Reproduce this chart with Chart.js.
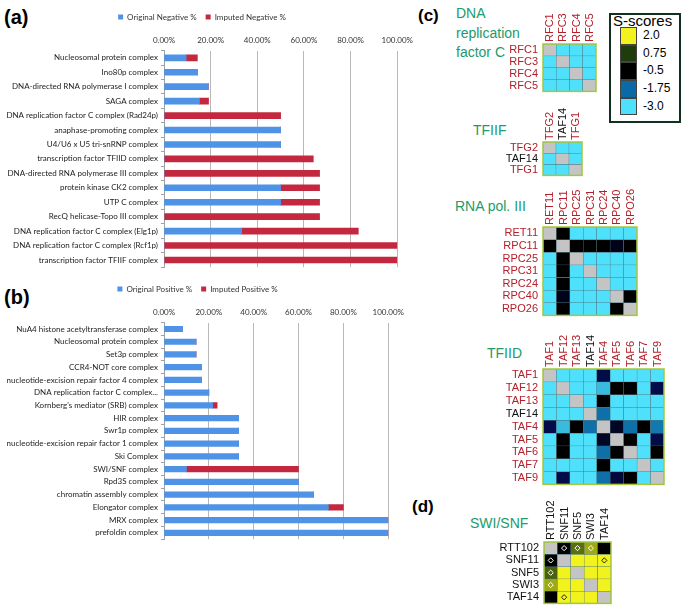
<!DOCTYPE html>
<html>
<head>
<meta charset="utf-8">
<script src="https://cdn.jsdelivr.net/npm/chart.js@4.4.0/dist/chart.umd.min.js"></script>
<style>
body{margin:0;background:#fff;width:685px;height:614px;position:relative;overflow:hidden;font-family:"Liberation Sans",Arial,sans-serif}
canvas{position:absolute}
.tag{position:absolute;font-weight:bold;font-size:20px;color:#000;line-height:22px}
.ttl{position:absolute;color:#229a6a;font-size:14px;line-height:19.5px}
#leg{position:absolute;left:609px;top:13px;width:68px;height:106px;border:2px solid #12301f}
#leg .h{position:absolute;left:2px;top:-2px;font-size:15px;line-height:15px}
#leg .sw{position:absolute;left:9px;width:17px;height:17.7px;border:0.5px solid #444;box-sizing:border-box}
#leg .lb{position:absolute;left:32px;font-size:12px;line-height:17.7px}
</style>
</head>
<body>
<div class="tag" style="left:4px;top:6px">(a)</div>
<div class="tag" style="left:4px;top:286px">(b)</div>
<div class="tag" style="left:418px;top:5px;font-size:17px">(c)</div>
<div class="tag" style="left:412px;top:496px;font-size:17px">(d)</div>

<div class="ttl" style="left:456px;top:4px">DNA<br>replication<br>factor C</div>
<div class="ttl" style="left:473px;top:121px">TFIIF</div>
<div class="ttl" style="left:455px;top:197px">RNA pol. III</div>
<div class="ttl" style="left:487px;top:344px">TFIID</div>
<div class="ttl" style="left:470px;top:514px">SWI/SNF</div>

<div id="leg"><div class="h">S-scores</div></div>

<canvas id="negChart" width="418" height="275" style="left:0;top:0"></canvas>
<canvas id="posChart" width="409" height="275" style="left:0;top:272px"></canvas>
<canvas id="rfc"></canvas>
<canvas id="tfiif"></canvas>
<canvas id="pol3"></canvas>
<canvas id="tfiid"></canvas>
<canvas id="swi"></canvas>

<script>
// (a) negatives
const negCategories = [
  'Nucleosomal protein complex',
  'Ino80p complex',
  'DNA-directed RNA polymerase I complex',
  'SAGA complex',
  'DNA replication factor C complex (Rad24p)',
  'anaphase-promoting complex',
  'U4/U6 x U5 tri-snRNP complex',
  'transcription factor TFIID complex',
  'DNA-directed RNA polymerase III complex',
  'protein kinase CK2 complex',
  'UTP C complex',
  'RecQ helicase-Topo III complex',
  'DNA replication factor C complex (Elg1p)',
  'DNA replication factor C complex (Rcf1p)',
  'transcription factor TFIIF complex'
];
const negOriginal = [9.5, 14.3, 19, 15.2, 0, 50, 50, 0, 0, 50, 50, 0, 33.3, 0, 0];
const negImputed  = [4.8, 0, 0, 3.9, 50, 0, 0, 64, 66.7, 16.7, 16.7, 66.7, 50, 100, 100];

// (b) positives
const posCategories = [
  'NuA4 histone acetyltransferase complex',
  'Nucleosomal protein complex',
  'Set3p complex',
  'CCR4-NOT core complex',
  'nucleotide-excision repair factor 4 complex',
  'DNA replication factor C complex...',
  "Kornberg's mediator (SRB) complex",
  'HIR complex',
  'Swr1p complex',
  'nucleotide-excision repair factor 1 complex',
  'Ski Complex',
  'SWI/SNF complex',
  'Rpd3S complex',
  'chromatin assembly complex',
  'Elongator complex',
  'MRX complex',
  'prefoldin complex'
];
const posOriginal = [8.3, 14.3, 14.3, 16.7, 16.7, 20, 21.7, 33.3, 33.3, 33.3, 33.3, 10, 60, 66.7, 73.3, 100, 100];
const posImputed  = [0, 0, 0, 0, 0, 0, 2, 0, 0, 0, 0, 50, 0, 0, 6.7, 0, 0];

// (c)/(d) S-score matrices, null = diagonal
const rfcGenes = ['RFC1', 'RFC3', 'RFC4', 'RFC5'];
const rfcScores = [
  [null, -3, -3, -3],
  [-3, null, -3, -3],
  [-3, -3, null, -3],
  [-3, -3, -3, null]
];
const tfiifGenes = ['TFG2', 'TAF14', 'TFG1'];
const tfiifScores = [
  [null, -3, -3],
  [-3, null, -3],
  [-3, -3, null]
];
const pol3Genes = ['RET11', 'RPC11', 'RPC25', 'RPC31', 'RPC24', 'RPC40', 'RPO26'];
const pol3Scores = [
  [null, -0.5, -3, -3, -3, -3, -3],
  [-0.5, null, -0.5, -0.5, -0.5, -0.7, -0.5],
  [-3, -0.5, null, -3, -3, -3, -3],
  [-3, -0.5, -3, null, -3, -3, -3],
  [-3, -0.5, -3, -3, null, -3, -3],
  [-3, -0.7, -3, -3, -3, null, -0.5],
  [-3, -0.5, -3, -3, -3, -0.5, null]
];
const tfiidGenes = ['TAF1', 'TAF12', 'TAF13', 'TAF14', 'TAF4', 'TAF5', 'TAF6', 'TAF7', 'TAF9'];
const tfiidScores = [
  [null, -3, -3, -3, -1.1, -3, -3, -3, -3],
  [-3, null, -3, -3, -2.6, -0.5, -0.5, -3, -1.1],
  [-3, -3, null, -3, -0.5, -3, -3, -3, -3],
  [-3, -3, -3, null, -1.8, -3, -3, -3, -3],
  [-1.1, -2.6, -0.5, -1.8, null, -0.8, -1.8, -0.5, -1.9],
  [-3, -0.5, -3, -3, -0.8, null, -0.5, -3, -1.1],
  [-3, -0.5, -3, -3, -1.8, -0.5, null, -3, -0.5],
  [-3, -3, -3, -3, -0.5, -3, -3, null, -3],
  [-3, -1.1, -3, -3, -1.8, -1.0, -0.5, -3, null]
];
const swiGenes = ['RTT102', 'SNF11', 'SNF5', 'SWI3', 'TAF14'];
const swiScores = [
  [null, -0.5, 1.1, 1.5, -0.5],
  [-0.5, null, 2, 2, 2],
  [1.0, 2, null, 2, 2],
  [1.5, 2, 2, null, 2],
  [-0.5, 2, 2, 2, null]
];
const swiMarked = [[0, 1], [0, 2], [0, 3], [1, 0], [1, 4], [2, 0], [3, 0], [4, 1]];

const scoreStops = [-3, -1.75, -1.1, -0.5, 0.75, 2.0];
const scoreColors = ['#4fe1fb', '#0b6aa6', '#020c48', '#000000', '#1f3c0b', '#f2f21c'];
const legendLabels = ['2.0', '0.75', '-0.5', '-1.75', '-3.0'];
const legendColors = ['#f2f21c', '#1f3c0b', '#000000', '#0b6aa6', '#4fe1fb'];

function hex(c) { return [1, 3, 5].map(i => parseInt(c.substr(i, 2), 16)); }
function sColor(v) {
  if (v === null) return '#c4c4c4';
  if (v <= scoreStops[0]) return scoreColors[0];
  for (let i = 1; i < scoreStops.length; i++) {
    if (v <= scoreStops[i]) {
      const t = (v - scoreStops[i - 1]) / (scoreStops[i] - scoreStops[i - 1]);
      const a = hex(scoreColors[i - 1]), b = hex(scoreColors[i]);
      return 'rgb(' + a.map((x, k) => Math.round(x + (b[k] - x) * t)).join(',') + ')';
    }
  }
  return scoreColors[scoreColors.length - 1];
}

// legend box
const leg = document.getElementById('leg');
legendLabels.forEach((l, i) => {
  const top = 12 + i * 17.7;
  leg.insertAdjacentHTML('beforeend',
    `<div class="sw" style="top:${top}px;background:${legendColors[i]}"></div>` +
    `<div class="lb" style="top:${top}px">${l}</div>`);
});

const BLUE = '#4f93e6', RED = '#c4283e';
const barFont = { family: 'Lato', size: 8 };

function makeBars(id, cats, orig, imp, names, thick, legPad) {
  new Chart(document.getElementById(id), {
    type: 'bar',
    data: {
      labels: cats,
      datasets: [
        { label: names[0], data: orig, backgroundColor: BLUE, barThickness: thick },
        { label: names[1], data: imp, backgroundColor: RED, barThickness: thick }
      ]
    },
    options: {
      indexAxis: 'y',
      responsive: false,
      animation: false,
      layout: { padding: { left: 0, right: 14, top: 4, bottom: 3 } },
      plugins: {
        tooltip: { enabled: false },
        legend: {
          position: 'top',
          labels: { boxWidth: 5, boxHeight: 5, font: barFont, color: '#333', padding: legPad }
        }
      },
      scales: {
        x: {
          position: 'top', stacked: true, min: 0, max: 100,
          ticks: { stepSize: 20, callback: v => v.toFixed(2) + '%', font: barFont, color: '#333', padding: 5 },
          grid: { color: '#b8b8b8', drawTicks: false },
          border: { display: false }
        },
        y: {
          stacked: true,
          ticks: { font: barFont, color: '#222', autoSkip: false, padding: 3 },
          grid: { drawOnChartArea: false, offset: true, tickLength: 3, color: '#a0a0a0' },
          border: { color: '#a0a0a0' },
          afterFit: s => { s.width = 164; }
        }
      }
    }
  });
}

makeBars('negChart', negCategories, negOriginal, negImputed, ['Original Negative %', 'Imputed Negative %'], 6, 9);
makeBars('posChart', posCategories, posOriginal, posImputed, ['Original Positive %', 'Imputed Positive %'], 5.5, 9);

const frame = {
  id: 'frame',
  afterDatasetsDraw(chart) {
    const a = chart.chartArea, ctx = chart.ctx;
    ctx.save();
    ctx.strokeStyle = '#a4c83c';
    ctx.lineWidth = 1.5;
    ctx.strokeRect(a.left, a.top, a.right - a.left, a.bottom - a.top);
    ctx.restore();
  }
};

const RED_LBL = '#b3202b';
function geneColor(g, allBlack) { return allBlack || g === 'TAF14' ? '#111' : RED_LBL; }

function makeHeat(id, gridLeft, gridTop, cell, genes, scores, allBlack, marks) {
  const W = 60, H = 46, n = genes.length;
  const cv = document.getElementById(id);
  cv.width = W + n * cell + 10;
  cv.height = H + n * cell + 6;
  cv.style.left = (gridLeft - W) + 'px';
  cv.style.top = (gridTop - H) + 'px';
  const lblFont = { family: 'Liberation Sans', size: 11 };
  // column names, upright text reading bottom-to-top above each column
  const colLabels = {
    id: 'colLabels',
    afterDraw(chart) {
      const { ctx, chartArea, scales } = chart;
      ctx.save();
      ctx.font = '11px "Liberation Sans"';
      ctx.textAlign = 'left';
      ctx.textBaseline = 'middle';
      genes.forEach((g, i) => {
        ctx.save();
        ctx.translate(scales.x.getPixelForValue(i) + 0.5, chartArea.top - 2);
        ctx.rotate(-Math.PI / 2);
        ctx.fillStyle = geneColor(g, allBlack);
        ctx.fillText(g, 0, 0);
        ctx.restore();
      });
      ctx.restore();
    }
  };
  const datasets = genes.map((g, i) => ({
    type: 'bar',
    data: genes.map(() => [i, i + 1]),
    backgroundColor: scores[i].map(sColor),
    borderColor: '#4a7883',
    borderWidth: 0.5,
    borderSkipped: false,
    grouped: false,
    barPercentage: 1,
    categoryPercentage: 1,
    order: 2
  }));
  if (marks) {
    datasets.push({
      type: 'line',
      showLine: false,
      data: marks.map(m => ({ x: genes[m[1]], y: m[0] + 0.5 })),
      pointStyle: 'rectRot',
      pointRadius: 2.6,
      pointBorderWidth: 1,
      pointBackgroundColor: 'rgba(0,0,0,0)',
      pointBorderColor: marks.map(m => scores[m[0]][m[1]] > 1.8 ? '#222' : '#fff'),
      order: 0
    });
  }
  new Chart(cv, {
    type: 'bar',
    data: { labels: genes, datasets },
    options: {
      responsive: false,
      animation: false,
      layout: { padding: { left: 0, top: 0, right: 10, bottom: 6 } },
      plugins: { legend: { display: false }, tooltip: { enabled: false } },
      scales: {
        x: {
          type: 'category', position: 'top', offset: true,
          grid: { display: false, drawTicks: false }, border: { display: false },
          ticks: { display: false },
          afterFit: s => { s.height = H; }
        },
        y: {
          type: 'linear', min: 0, max: n, reverse: true,
          grid: { display: false, drawTicks: false }, border: { display: false },
          afterBuildTicks: s => { s.ticks = genes.map((g, i) => ({ value: i + 0.5 })); },
          ticks: {
            autoSkip: false, padding: 5, font: lblFont,
            callback: (v, i) => genes[i],
            color: c => geneColor(genes[c.index], allBlack)
          },
          afterFit: s => { s.width = W; }
        }
      }
    },
    plugins: [frame, colLabels]
  });
}

makeHeat('rfc', 543, 44, 13.3, rfcGenes, rfcScores, false);
makeHeat('tfiif', 543, 142, 13.3, tfiifGenes, tfiifScores, false);
makeHeat('pol3', 543, 227, 13.45, pol3Genes, pol3Scores, false);
makeHeat('tfiid', 542.5, 368.5, 13.45, tfiidGenes, tfiidScores, false);
makeHeat('swi', 543.5, 541.5, 13.4, swiGenes, swiScores, true, swiMarked);
</script>
</body>
</html>
